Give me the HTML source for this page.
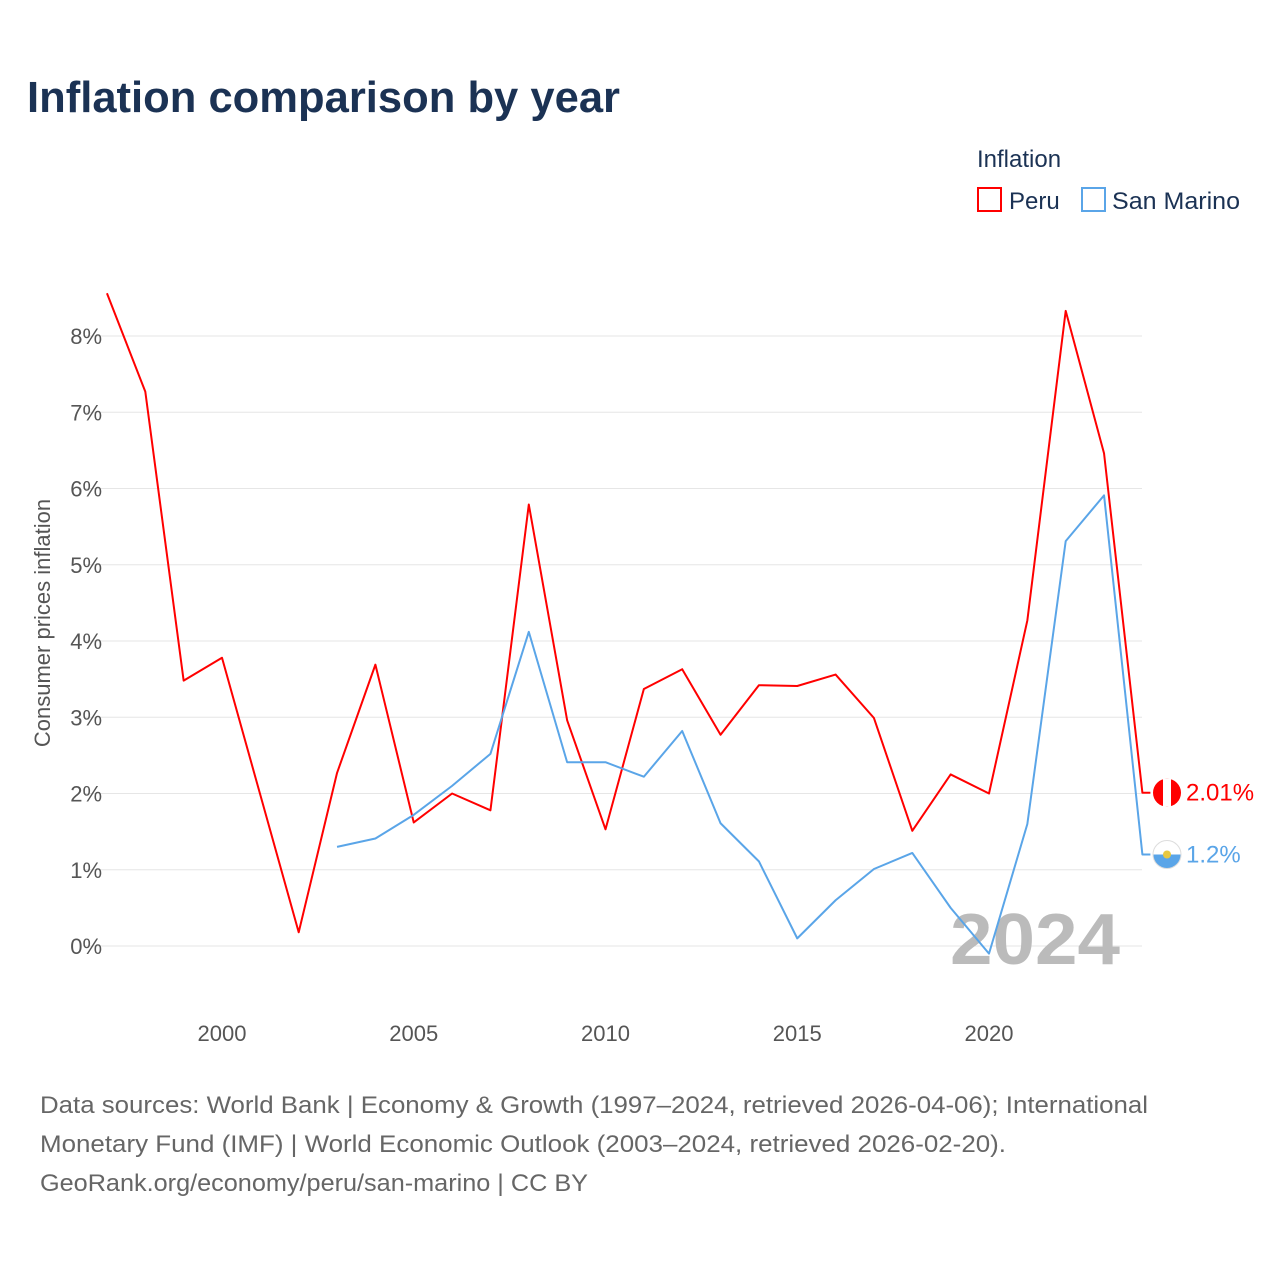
<!DOCTYPE html>
<html><head><meta charset="utf-8"><style>
body{margin:0;background:#fff;font-family:"Liberation Sans",sans-serif}
svg text{font-family:"Liberation Sans",sans-serif}
</style></head><body>
<svg id="c" width="1280" height="1280">
<text x="27" y="112" font-size="44" font-weight="bold" fill="#1b3254" textLength="593" lengthAdjust="spacingAndGlyphs">Inflation comparison by year</text>
<text x="977" y="167" font-size="24" fill="#1b3254">Inflation</text>
<g><rect x="978" y="188" width="23" height="23" fill="none" stroke="#f00" stroke-width="2"/><text x="1009" y="209" font-size="24" fill="#1b3254">Peru</text></g>
<g><rect x="1082" y="188" width="23" height="23" fill="none" stroke="#5aa5e8" stroke-width="2"/><text x="1112" y="209" font-size="24" fill="#1b3254" textLength="128" lengthAdjust="spacingAndGlyphs">San Marino</text></g>
<text transform="translate(50,623) rotate(-90)" text-anchor="middle" font-size="22" fill="#555">Consumer prices inflation</text>
<g id="grid"></g><g id="yt"></g><g id="xt"></g>
<text x="950" y="964" font-size="72" font-weight="bold" fill="#bbb" textLength="170" lengthAdjust="spacingAndGlyphs">2024</text>
<g id="lines"></g>
<text x="40" y="1113" font-size="24" fill="#666" textLength="1108" lengthAdjust="spacingAndGlyphs">Data sources: World Bank | Economy &amp; Growth (1997–2024, retrieved 2026-04-06); International</text>
<text x="40" y="1152" font-size="24" fill="#666" textLength="966" lengthAdjust="spacingAndGlyphs">Monetary Fund (IMF) | World Economic Outlook (2003–2024, retrieved 2026-02-20).</text>
<text x="40" y="1191" font-size="24" fill="#666" textLength="548" lengthAdjust="spacingAndGlyphs">GeoRank.org/economy/peru/san-marino | CC BY</text>
</svg>
<script>
const yearsPeru=[1997,1998,1999,2000,2001,2002,2003,2004,2005,2006,2007,2008,2009,2010,2011,2012,2013,2014,2015,2016,2017,2018,2019,2020,2021,2022,2023,2024];
const peru=[8.56,7.27,3.48,3.78,1.98,0.18,2.27,3.69,1.62,2.0,1.78,5.79,2.96,1.53,3.37,3.63,2.77,3.42,3.41,3.56,2.99,1.51,2.25,2.0,4.27,8.33,6.46,2.01];
const yearsSM=[2003,2004,2005,2006,2007,2008,2009,2010,2011,2012,2013,2014,2015,2016,2017,2018,2019,2020,2021,2022,2023,2024];
const sanMarino=[1.3,1.41,1.72,2.1,2.52,4.12,2.41,2.41,2.22,2.82,1.61,1.11,0.1,0.6,1.01,1.22,0.5,-0.1,1.6,5.31,5.91,1.2];
const yTicks=[0,1,2,3,4,5,6,7,8];
const xTicks=[2000,2005,2010,2015,2020];
const X=y=>222+(y-2000)*38.35, Y=v=>946-v*76.25;
const NS='http://www.w3.org/2000/svg';
function mk(t,a,p){const e=document.createElementNS(NS,t);for(const k in a)e.setAttribute(k,a[k]);p.appendChild(e);return e;}
const g=document.getElementById('grid'),yt=document.getElementById('yt'),xt=document.getElementById('xt'),L=document.getElementById('lines');
yTicks.forEach(v=>{const l=mk('line',{x1:83,x2:1142,y1:Y(v),y2:Y(v),stroke:'#e6e6e6','stroke-width':1},g);


const t=mk('text',{x:102,y:Y(v)+8,'text-anchor':'end','font-size':22,fill:'#555'},yt);t.textContent=v+'%';

});
xTicks.forEach(v=>{const t=mk('text',{x:X(v),y:1041,'text-anchor':'middle','font-size':22,fill:'#555'},xt);t.textContent=v;

});
function series(ys,vs,col,name,lab,ly){
const pts=ys.map((y,i)=>X(y)+','+Y(vs[i]));const last=vs[vs.length-1];
pts.push((X(ys[ys.length-1])+8)+','+Y(last));
const p=mk('polyline',{points:pts.join(' '),fill:'none',stroke:col,'stroke-width':2,'stroke-linejoin':'round'},L);


const c=mk('circle',{cx:1167,cy:ly,r:14,fill:col},L);


const t=mk('text',{x:1186,y:ly+8,'font-size':24,fill:col},L);t.textContent=lab;

}
series(yearsPeru,peru,'#f00','peru','2.01%',Y(peru[peru.length-1]));
series(yearsSM,sanMarino,'#5aa5e8','san-marino','1.2%',Y(sanMarino[sanMarino.length-1]));
const w=mk('rect',{x:1163,y:Y(peru[peru.length-1])-14,width:8,height:28,fill:'#fff'},L);


const h=mk('rect',{x:1153,y:Y(1.2)-14,width:28,height:14,fill:'#fff'},L);


const ring=mk('circle',{cx:1167,cy:Y(1.2),r:14,fill:'none',stroke:'#ddd','stroke-width':1},L);


const em=mk('circle',{cx:1167,cy:Y(1.2),r:4,fill:'#e8c840'},L);


</script>
</body></html>
